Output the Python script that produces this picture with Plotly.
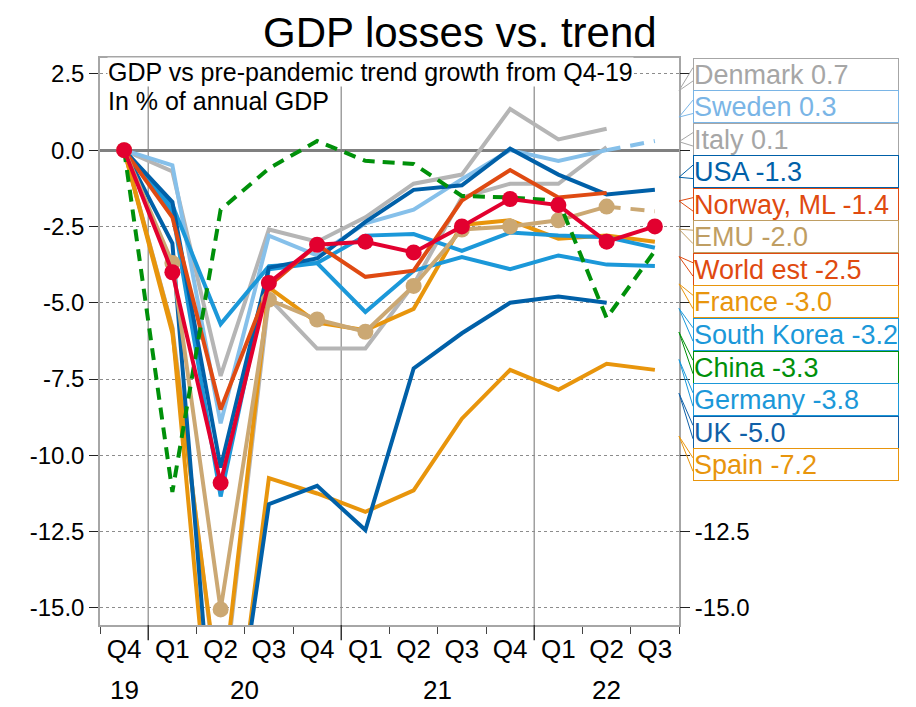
import plotly.graph_objects as go

# ---------------- data ----------------
quarters = ["Q4", "Q1", "Q2", "Q3", "Q4", "Q1", "Q2", "Q3", "Q4", "Q1", "Q2", "Q3"]
years = ["19", "20", "20", "20", "20", "21", "21", "21", "21", "22", "22", "22"]

denmark = [0, -0.7, -7.4, -2.6, -3.0, -2.2, -1.1, -0.8, 1.35, 0.35, 0.7, None]
sweden = [0, -0.5, -8.95, -2.8, -3.45, -2.4, -1.95, -0.95, 0.0, -0.35, 0.0, 0.3]
italy = [0, -5.8, -18.5, -4.85, -6.5, -6.5, -4.4, -1.55, -1.1, -1.1, 0.1, None]
usa = [0, -1.7, -10.4, -3.85, -3.55, -2.35, -1.3, -1.15, 0.05, -0.8, -1.45, -1.3]
norway = [0, -2.2, -8.5, -4.45, -3.1, -4.15, -3.95, -1.65, -0.65, -1.55, -1.4, None]
emu = [0, -3.7, -15.05, -4.9, -5.55, -5.95, -4.45, -2.6, -2.5, -2.3, -1.85, -2.0]
world = [0, -4.0, -10.9, -4.35, -3.1, -3.0, -3.35, -2.5, -1.6, -1.8, -3.0, -2.5]
france = [0, -6.0, -18.3, -4.5, -5.65, -5.9, -5.2, -2.45, -2.3, -2.9, -2.8, -3.0]
south_korea = [0, -1.8, -5.7, -3.8, -3.7, -2.8, -2.75, -3.3, -2.7, -2.8, -2.85, -3.2]
china = [0, -11.2, -1.95, -0.6, 0.3, -0.35, -0.45, -1.5, -1.55, -1.65, -5.5, -3.3]
germany = [0, -2.0, -11.35, -3.9, -3.7, -5.3, -3.95, -3.5, -3.9, -3.45, -3.75, -3.8]
uk = [0, -3.05, -22.5, -11.6, -11.0, -12.45, -7.15, -6.0, -5.0, -4.8, -5.0, None]
spain = [0, -5.85, -23.0, -10.75, -11.25, -11.85, -11.15, -8.8, -7.2, -7.85, -7.0, -7.2]

label_names = ["Denmark", "Sweden", "Italy", "USA", "Norway, ML", "EMU", "World est",
               "France", "South Korea", "China", "Germany", "UK", "Spain"]
label_values = [0.7, 0.3, 0.1, -1.3, -1.4, -2.0, -2.5, -3.0, -3.2, -3.3, -3.8, -5.0, -7.2]

ytick_vals = [2.5, 0, -2.5, -5, -7.5, -10, -12.5, -15]
ytick_text = ["2.5", "0.0", "-2.5", "-5.0", "-7.5", "-10.0", "-12.5", "-15.0"]

title_text = "GDP losses vs. trend"
subtitle_1 = "GDP vs pre-pandemic trend growth from Q4-19"
subtitle_2 = "In % of annual GDP"

# ---------------- styles ----------------
FONT = "Liberation Sans, Arial, sans-serif"
Y_MIN, Y_MAX = -15.56, 3.02

values_by_name = {
    "Denmark": denmark, "Sweden": sweden, "Italy": italy, "USA": usa,
    "Norway, ML": norway, "EMU": emu, "World est": world, "France": france,
    "South Korea": south_korea, "China": china, "Germany": germany, "UK": uk,
    "Spain": spain,
}
line_color = {
    "Denmark": "#b5b5b5", "Sweden": "#86c0ea", "Italy": "#b5b5b5", "USA": "#0060a8",
    "Norway, ML": "#df4a12", "EMU": "#cba873", "World est": "#e2002f", "France": "#e8950c",
    "South Korea": "#1b98d9", "China": "#00900a", "Germany": "#1b98d9", "UK": "#0060a8",
    "Spain": "#e8950c",
}
label_color = {
    "Denmark": "#a6a6a6", "Sweden": "#7ab5e6", "Italy": "#a6a6a6", "USA": "#0060a8",
    "Norway, ML": "#e04a10", "EMU": "#bf9e63", "World est": "#e04a10", "France": "#e8950c",
    "South Korea": "#1b98d9", "China": "#00900a", "Germany": "#1b98d9", "UK": "#1060a8",
    "Spain": "#e8950c",
}
draw_order = ["Italy", "Denmark", "Sweden", "Spain", "France", "UK", "Germany",
              "South Korea", "USA", "Norway, ML", "EMU", "China", "World est"]
projected_from = {"Sweden": 10, "EMU": 10}   # dashed projection after this index
with_markers = {"World est": 12, "EMU": 11}  # markers on first n points

x_idx = list(range(len(quarters)))

fig = go.Figure()
for name in draw_order:
    vals = values_by_name[name]
    col = line_color[name]
    dash = "12px,8px" if name == "China" else "solid"
    cut = projected_from.get(name)
    solid_vals = vals if cut is None else [v if i <= cut else None for i, v in enumerate(vals)]
    nmk = with_markers.get(name, 0)
    msizes = [16 if i < nmk else 0 for i in range(len(vals))]
    fig.add_trace(go.Scatter(
        x=x_idx, y=solid_vals, mode="lines+markers" if nmk else "lines",
        line=dict(color=col, width=4, dash=dash),
        marker=dict(size=msizes, color=col, opacity=1, line=dict(width=0)) if nmk else None,
        name=name, showlegend=False, hoverinfo="skip",
        yaxis="y2" if name == "World est" else "y",
    ))
    if cut is not None:
        proj_vals = [v if i >= cut else None for i, v in enumerate(vals)]
        fig.add_trace(go.Scatter(
            x=x_idx, y=proj_vals, mode="lines",
            line=dict(color=col, width=4, dash="14px,10px"),
            showlegend=False, hoverinfo="skip",
        ))

# year separators and year labels
year_bounds = [i - 0.5 for i in range(1, len(years)) if years[i] != years[i - 1]]
for b in year_bounds:
    fig.add_shape(type="line", xref="x", yref="paper", x0=b, x1=b, y0=0, y1=1,
                  line=dict(color="#a0a0a0", width=1.5), layer="below")
    fig.add_shape(type="line", xref="x", yref="paper", x0=b, x1=b, y0=-0.027, y1=0,
                  line=dict(color="#333333", width=1.5))
unique_years = []
for y in years:
    if y not in unique_years:
        unique_years.append(y)
for yr in unique_years:
    idx = [i for i, y in enumerate(years) if y == yr]
    fig.add_annotation(x=sum(idx) / len(idx), xref="x", y=-0.115, yref="paper",
                       text=yr, showarrow=False, yanchor="middle",
                       font=dict(size=26, color="black", family=FONT))

# subtitle
fig.add_annotation(xref="paper", yref="paper", x=0.012, y=0.975, xanchor="left",
                   yanchor="middle", text=subtitle_1, showarrow=False, bgcolor="white",
                   font=dict(size=25, color="black", family=FONT), borderpad=0)
fig.add_annotation(xref="paper", yref="paper", x=0.012, y=0.924, xanchor="left",
                   yanchor="middle", text=subtitle_2, showarrow=False,
                   font=dict(size=25, color="black", family=FONT), borderpad=0)

# value label boxes with callout tails
BOX_H = 1.066
BOX_X = 1.0242
TIP_X = 1.0
for i, (nm, lv) in enumerate(zip(label_names, label_values)):
    top = Y_MAX - i * BOX_H
    center = top - BOX_H / 2
    col = label_color[nm]
    fig.add_annotation(xref="paper", yref="y", x=BOX_X, y=center, xanchor="left",
                       yanchor="middle", text=f"{nm} {lv:.1f}", showarrow=False,
                       align="left", width=204, height=31, borderpad=0,
                       bordercolor=col, borderwidth=1, bgcolor="white",
                       font=dict(size=27, color=col, family=FONT))
    tip = center + 0.3 * (lv - center)
    fig.add_shape(type="path", xref="paper", yref="y",
                  path=f"M {BOX_X},{center + 0.22} L {TIP_X},{tip} L {BOX_X},{center - 0.22}",
                  line=dict(color=col, width=1))

right_text = [t if v < -11 else "" for v, t in zip(ytick_vals, ytick_text)]

fig.update_layout(
    width=916, height=707,
    margin=dict(l=100, r=237, t=58, b=82),
    paper_bgcolor="white", plot_bgcolor="white",
    font=dict(family=FONT, color="black"),
    hovermode=False,
    title=dict(text=title_text, x=0.502, xanchor="center", y=0.955, yanchor="middle",
               xref="container", yref="container",
               font=dict(size=42, color="black", family=FONT)),
    xaxis=dict(range=[-0.5, len(quarters) - 0.5], tickmode="array", tickvals=x_idx,
               ticktext=quarters, ticks="", showgrid=False, zeroline=False,
               showline=True, mirror=True, linecolor="#a6a6a6", linewidth=1.5,
               tickfont=dict(size=26, color="black"), ticklabelstandoff=0,
               minor=dict(tickmode="array", tickvals=[i - 0.5 for i in range(len(quarters) + 1)],
                          ticks="outside", ticklen=7, tickcolor="#444444", tickwidth=1,
                          showgrid=False)),
    yaxis=dict(range=[Y_MIN, Y_MAX], tickmode="array", tickvals=ytick_vals,
               ticktext=ytick_text, ticks="outside", ticklen=9, tickcolor="#222222",
               showgrid=True, gridcolor="#8c8c8c", griddash="dot", gridwidth=1,
               zeroline=True, zerolinecolor="#808080", zerolinewidth=3,
               showline=True, mirror=True, linecolor="#a6a6a6", linewidth=1.5,
               tickfont=dict(size=24, color="black")),
    yaxis2=dict(range=[Y_MIN, Y_MAX], overlaying="y", side="right", anchor="x",
                tickmode="array", tickvals=ytick_vals, ticktext=right_text,
                ticks="outside", ticklen=10, tickcolor="#222222", showgrid=False,
                zeroline=False, showline=False, tickfont=dict(size=24, color="black")),
)

fig.write_html("out.html", config={"displayModeBar": False},
               post_script="document.body.style.margin='0px';")
